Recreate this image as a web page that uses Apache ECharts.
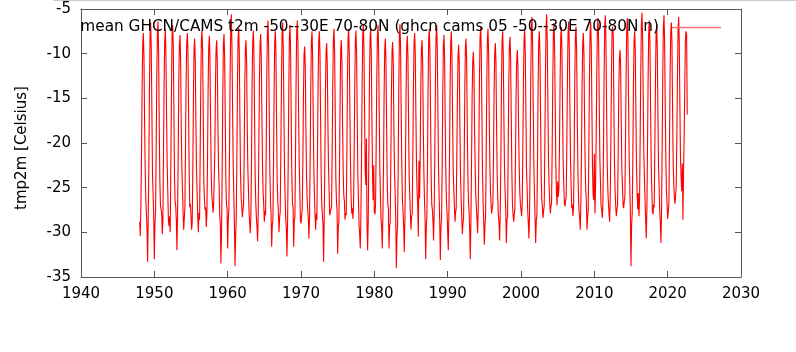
<!DOCTYPE html>
<html>
<head>
<meta charset="utf-8">
<script src="https://cdn.jsdelivr.net/npm/echarts@6/dist/echarts.min.js"></script>
<style>
html,body{margin:0;padding:0;background:#fff;}
#chart{width:796px;height:352px;}
</style>
</head>
<body>
<div id="chart"></div>
<script>
// Monthly mean t2m (Celsius), GHCN/CAMS, -50..-30E 70..80N, starting Jan 1948
const startYear = 1948;
const seriesName = 'mean GHCN/CAMS t2m -50--30E 70-80N (ghcn cams 05 -50--30E 70-80N n)';
const yAxisName = 'tmp2m [Celsius]';
const xTicks = [1940, 1950, 1960, 1970, 1980, 1990, 2000, 2010, 2020, 2030];
const yTicks = [-35, -30, -25, -20, -15, -10, -5];

const vals1940s = [
  -28.8,-30.4,-27.2,-21.6,-13.9,-8.9,-7.7,-10.3,-17.2,-22.8,-26.1,-27.9,
  -29.5,-33.3,-28.4,-22.7,-14.2,-8.1,-6.5,-9.4,-16.5,-23.5,-25.8,-28.3
];
const vals1950s = [
  -33.0,-29.1,-27.6,-20.8,-12.6,-7.9,-6.4,-9.9,-17.8,-24.1,-26.9,-27.4,
  -27.9,-30.2,-28.8,-21.2,-13.3,-8.6,-7.3,-10.1,-16.9,-22.3,-25.4,-28.6,
  -29.3,-28.2,-30.0,-22.4,-14.5,-8.0,-6.8,-9.2,-16.1,-23.8,-26.5,-27.1,
  -28.7,-32.0,-27.9,-21.9,-13.1,-9.1,-7.9,-10.6,-18.1,-22.6,-25.2,-27.6,
  -29.7,-28.5,-27.3,-20.5,-12.9,-8.8,-7.7,-9.8,-16.4,-23.2,-27.2,-26.8,
  -28.1,-29.7,-28.9,-22.9,-14.8,-9.4,-8.3,-10.9,-17.5,-22.9,-25.7,-28.2,
  -30.0,-27.8,-28.6,-21.3,-13.6,-8.5,-7.4,-9.6,-16.8,-24.4,-26.3,-27.5,
  -27.2,-29.4,-28.0,-22.1,-14.0,-9.3,-8.0,-10.5,-17.3,-23.1,-25.9,-26.6,
  -27.8,-26.9,-27.1,-20.9,-13.7,-9.6,-8.5,-10.8,-17.9,-22.5,-24.8,-28.1,
  -29.0,-33.5,-29.8,-23.2,-14.6,-9.0,-7.8,-10.2,-16.6,-23.9,-26.8,-27.3
];
const vals1960s = [
  -31.8,-28.7,-27.4,-21.1,-12.4,-7.2,-5.6,-9.1,-15.8,-22.2,-25.6,-28.8,
  -33.8,-30.6,-28.5,-22.3,-13.8,-8.4,-7.1,-9.7,-17.0,-23.3,-26.0,-27.0,
  -28.3,-27.5,-26.9,-21.7,-13.5,-9.5,-8.5,-11.0,-18.0,-22.7,-25.3,-27.7,
  -28.9,-30.1,-28.2,-22.0,-13.2,-8.7,-7.4,-9.9,-17.1,-23.7,-26.6,-28.4,
  -29.4,-31.0,-27.8,-20.6,-13.0,-8.9,-7.8,-10.4,-16.7,-22.4,-25.5,-26.9,
  -28.8,-27.6,-28.1,-21.4,-12.7,-7.6,-6.3,-9.3,-16.3,-23.0,-26.2,-28.0,
  -31.6,-29.2,-28.7,-22.6,-14.1,-8.6,-7.5,-10.0,-17.6,-24.2,-26.4,-27.8,
  -30.0,-28.4,-27.7,-21.0,-13.4,-7.8,-6.5,-9.5,-16.2,-22.9,-25.9,-28.5,
  -29.6,-32.7,-29.1,-22.8,-14.3,-8.2,-6.8,-9.6,-17.4,-23.6,-26.7,-27.2,
  -31.6,-28.8,-28.3,-21.5,-12.8,-7.5,-6.3,-9.0,-16.0,-22.1,-25.1,-28.7
];
const vals1970s = [
  -29.0,-28.1,-27.5,-22.5,-14.7,-10.1,-9.2,-11.4,-18.2,-23.4,-26.3,-27.4,
  -28.6,-30.7,-28.0,-21.8,-13.6,-8.7,-7.5,-10.2,-17.2,-22.8,-25.7,-28.2,
  -29.7,-27.9,-28.6,-20.7,-13.1,-8.6,-7.5,-9.8,-16.9,-23.5,-26.9,-27.0,
  -29.2,-33.3,-28.4,-22.2,-14.4,-9.8,-8.8,-11.2,-17.7,-22.6,-25.4,-28.1,
  -28.3,-27.4,-27.1,-21.2,-13.3,-8.3,-7.2,-9.7,-16.6,-23.9,-26.5,-27.6,
  -32.4,-29.5,-28.8,-22.9,-14.9,-9.6,-8.5,-10.9,-17.8,-23.2,-25.8,-26.5,
  -28.6,-27.8,-28.1,-21.6,-13.0,-8.4,-7.2,-9.9,-16.4,-22.4,-26.1,-27.9,
  -27.3,-28.5,-27.0,-20.9,-13.5,-8.5,-7.4,-10.1,-17.3,-23.6,-26.2,-29.1,
  -30.2,-31.8,-28.3,-22.0,-13.8,-8.0,-6.7,-9.4,-16.2,-22.9,-24.7,-19.5,
  -29.1,-32.0,-28.8,-21.7,-13.2,-8.4,-7.2,-9.8,-17.0,-23.3,-26.4,-22.5
];
const vals1980s = [
  -27.6,-28.0,-26.9,-20.4,-12.9,-8.1,-6.8,-9.5,-16.8,-22.7,-25.9,-28.6,
  -29.5,-31.8,-28.2,-22.6,-14.5,-9.5,-8.3,-10.7,-17.6,-24.0,-26.8,-27.3,
  -31.8,-29.3,-28.9,-21.9,-14.2,-9.7,-8.7,-11.1,-18.3,-23.1,-25.6,-28.3,
  -34.0,-30.5,-29.2,-23.0,-13.9,-8.0,-6.7,-9.6,-16.9,-22.8,-26.4,-27.7,
  -29.4,-32.2,-28.6,-22.4,-14.0,-9.1,-8.0,-10.3,-17.5,-23.7,-26.0,-28.0,
  -29.7,-28.2,-27.9,-21.3,-13.4,-8.8,-7.7,-10.0,-16.7,-22.5,-25.5,-27.1,
  -30.5,-22.0,-26.2,-21.8,-14.1,-9.6,-8.5,-10.8,-17.4,-23.0,-26.3,-28.4,
  -33.0,-29.6,-28.1,-22.1,-13.6,-8.3,-7.2,-9.9,-16.6,-23.8,-26.9,-27.5,
  -28.8,-30.9,-27.2,-20.9,-13.0,-8.1,-6.8,-9.3,-16.1,-22.6,-25.9,-28.7,
  -33.1,-29.4,-28.5,-22.7,-14.4,-9.0,-7.9,-10.5,-17.8,-23.4,-26.6,-27.8
];
const vals1990s = [
  -29.9,-32.0,-28.0,-21.6,-13.7,-8.7,-7.5,-10.2,-17.1,-22.9,-25.2,-27.0,
  -28.8,-27.7,-27.3,-21.2,-14.6,-10.2,-9.0,-11.3,-18.0,-23.5,-26.2,-28.2,
  -30.2,-29.0,-28.4,-22.5,-14.3,-9.4,-8.3,-10.6,-17.7,-23.1,-26.5,-27.6,
  -29.6,-33.0,-28.9,-22.8,-15.0,-10.9,-9.8,-11.6,-18.4,-22.7,-25.8,-27.3,
  -28.5,-30.1,-27.6,-21.0,-13.1,-8.2,-7.0,-9.6,-16.5,-23.3,-26.7,-28.9,
  -31.4,-29.3,-28.2,-21.9,-13.5,-8.4,-7.2,-9.9,-16.8,-22.4,-25.3,-26.8,
  -27.9,-27.2,-26.8,-21.4,-14.2,-9.9,-8.8,-11.0,-17.9,-23.6,-26.1,-28.1,
  -28.9,-30.9,-27.9,-22.3,-13.8,-8.6,-7.5,-10.1,-17.2,-22.8,-25.6,-27.4,
  -31.2,-28.6,-28.3,-21.1,-13.3,-9.2,-8.1,-10.4,-16.9,-23.0,-26.8,-28.0,
  -28.8,-28.0,-27.4,-21.7,-14.5,-10.7,-9.6,-11.5,-18.1,-22.6,-25.4,-26.9
];
const vals2000s = [
  -27.5,-28.2,-26.9,-20.6,-13.2,-8.5,-7.3,-9.8,-16.4,-22.9,-25.1,-27.7,
  -29.0,-30.7,-27.8,-21.5,-12.6,-7.2,-5.9,-9.0,-15.9,-22.2,-25.7,-28.3,
  -31.2,-28.7,-28.1,-22.0,-13.6,-8.6,-7.5,-10.0,-17.0,-23.4,-26.3,-27.2,
  -28.4,-27.6,-27.0,-20.3,-12.5,-7.0,-5.6,-8.8,-15.7,-21.9,-24.9,-26.6,
  -27.9,-27.1,-26.7,-20.8,-12.9,-7.8,-6.6,-9.2,-16.2,-22.5,-25.5,-27.0,
  -24.3,-26.0,-25.2,-20.1,-13.0,-8.2,-7.0,-9.5,-16.3,-22.1,-24.6,-26.8,
  -27.1,-26.4,-26.0,-19.8,-12.7,-7.6,-6.4,-9.0,-15.8,-21.8,-24.7,-27.3,
  -26.9,-28.2,-27.1,-21.2,-13.1,-8.1,-7.0,-9.6,-16.5,-22.6,-25.9,-27.7,
  -28.4,-29.7,-26.5,-20.9,-13.5,-8.9,-7.7,-10.1,-17.2,-22.4,-25.2,-26.6,
  -29.7,-28.3,-27.6,-20.7,-12.8,-7.7,-6.4,-9.1,-16.0,-22.8,-25.8,-26.4
];
const vals2010s = [
  -21.2,-27.9,-24.8,-19.6,-12.2,-7.3,-6.0,-8.7,-15.4,-21.5,-24.3,-27.0,
  -27.5,-28.4,-26.9,-20.4,-12.4,-7.0,-5.7,-8.6,-15.6,-22.0,-25.0,-26.7,
  -27.8,-28.8,-26.3,-20.2,-12.6,-7.4,-7.0,-7.9,-15.9,-22.3,-25.4,-27.1,
  -28.2,-27.4,-27.0,-21.4,-14.2,-10.6,-9.6,-11.2,-17.6,-22.9,-24.8,-26.9,
  -27.3,-26.5,-26.1,-19.9,-12.5,-7.3,-6.0,-8.5,-15.5,-21.6,-24.5,-28.1,
  -33.8,-29.2,-27.8,-21.8,-13.4,-8.6,-7.4,-9.7,-16.6,-22.7,-25.6,-27.4,
  -25.6,-28.2,-26.3,-19.5,-11.9,-6.6,-5.4,-8.2,-15.1,-21.2,-23.8,-26.5,
  -28.5,-30.7,-27.4,-20.6,-12.8,-7.5,-6.3,-8.9,-15.8,-22.1,-25.1,-27.6,
  -28.0,-26.9,-27.2,-20.5,-13.2,-8.0,-6.8,-9.4,-16.3,-22.4,-24.9,-27.5,
  -28.9,-31.2,-27.5,-20.3,-12.3,-6.9,-5.7,-8.6,-15.6,-21.9,-25.3,-26.8
];
const vals2020s = [
  -28.5,-27.7,-26.8,-20.0,-12.4,-7.6,-6.5,-8.7,-15.9,-22.0,-24.6,-26.2,
  -26.8,-25.9,-24.7,-19.4,-12.6,-7.4,-5.9,-8.8,-15.9,-21.7,-23.9,-25.4,
  -22.3,-28.6,-23.1,-19.2,-13.6,-8.5,-7.5,-7.8,-16.8
];

const allVals = [].concat(vals1940s, vals1950s, vals1960s, vals1970s, vals1980s,
                          vals1990s, vals2000s, vals2010s, vals2020s);
const seriesData = allVals.map((v, i) => [startYear + i / 12, v]);

const FONT = 'DejaVu Sans';
const frameColor = '#555';
const chart = echarts.init(document.getElementById('chart'), null, {renderer: 'canvas'});

const xMin = xTicks[0], xMax = xTicks[xTicks.length - 1];
const yMin = yTicks[0], yMax = yTicks[yTicks.length - 1];
const xInt = xTicks[1] - xTicks[0], yInt = yTicks[1] - yTicks[0];

function xAx(pos, showLabel) {
  return {
    type: 'value', position: pos, min: xMin, max: xMax, interval: xInt,
    axisLine: {show: true, onZero: false, lineStyle: {color: frameColor, width: 1}},
    axisTick: {show: true, inside: true, length: 6, lineStyle: {color: frameColor}},
    axisLabel: {show: showLabel, margin: 10, color: '#000', fontFamily: FONT, fontSize: 15,
                formatter: v => String(v)},
    splitLine: {show: false}
  };
}
function yAx(pos, showLabel) {
  const a = {
    type: 'value', position: pos, min: yMin, max: yMax, interval: yInt,
    axisLine: {show: true, onZero: false, lineStyle: {color: frameColor, width: 1}},
    axisTick: {show: true, inside: true, length: 6, lineStyle: {color: frameColor}},
    axisLabel: {show: showLabel, margin: 10, color: '#000', fontFamily: FONT, fontSize: 15,
                formatter: v => String(v)},
    splitLine: {show: false}
  };
  if (showLabel) {
    a.name = yAxisName;
    a.nameLocation = 'middle';
    a.nameGap = 51;
    a.nameTextStyle = {color: '#000', fontFamily: FONT, fontSize: 15, padding: [0, 10, 0, 0]};
  }
  return a;
}

chart.setOption({
  animation: false,
  backgroundColor: '#fff',
  grid: {left: 81, right: 55, top: 9, bottom: 75, containLabel: false},
  xAxis: [xAx('bottom', true), xAx('top', false)],
  yAxis: [yAx('left', true), yAx('right', false)],
  legend: {
    show: true,
    data: [seriesName],
    right: 75, top: 20,
    align: 'right',
    icon: 'rect',
    itemWidth: 49, itemHeight: 1.5,
    itemStyle: {color: '#ff7070', borderWidth: 0},
    lineStyle: {color: '#ff7070', width: 1},
    textStyle: {color: '#000', fontFamily: FONT, fontSize: 15.3, padding: [0, 8, 0, 0]},
    padding: 0
  },
  graphic: [{
    type: 'line', silent: true,
    shape: {x1: 53, y1: 0.5, x2: 796, y2: 0.5},
    style: {stroke: '#cccccc', lineWidth: 1}
  }],
  series: [{
    name: seriesName,
    type: 'line',
    xAxisIndex: 0, yAxisIndex: 0,
    data: seriesData,
    showSymbol: false,
    symbol: 'none',
    sampling: null,
    lineStyle: {color: '#ff0000', width: 1.1},
    itemStyle: {color: '#ff0000'},
    z: 1
  }]
});
</script>
</body>
</html>
